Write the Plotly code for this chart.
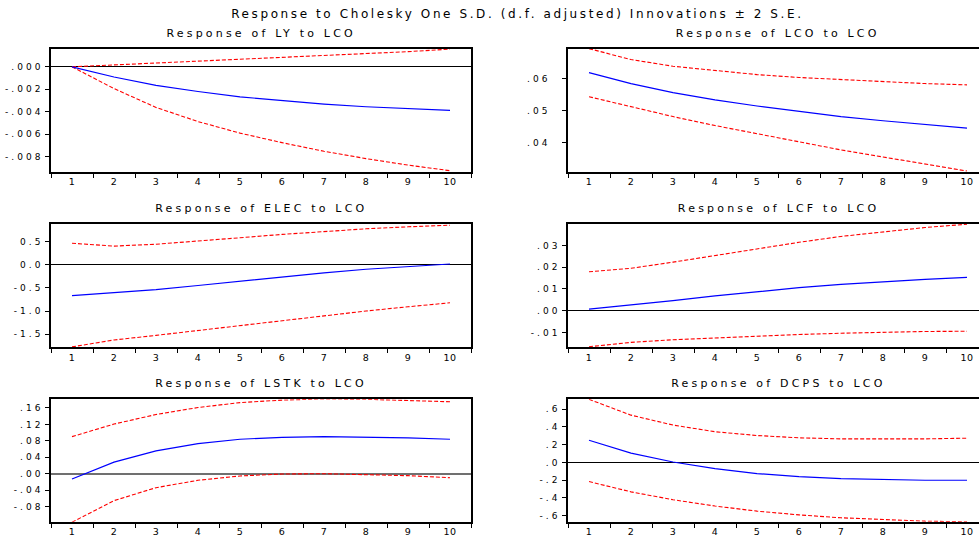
import plotly.graph_objects as go

# ---------------- data ----------------
periods = ["1", "2", "3", "4", "5", "6", "7", "8", "9", "10"]

ly_resp = [0.0, -0.00091, -0.00165, -0.0022, -0.00268, -0.00303, -0.00332, -0.00356, -0.00374, -0.00388]
ly_upper = [0.0, 0.00016, 0.00033, 0.0005, 0.00067, 0.00084, 0.001, 0.00117, 0.00135, 0.00158]
ly_lower = [0.0, -0.00194, -0.00362, -0.00488, -0.00591, -0.00676, -0.00753, -0.00818, -0.00876, -0.00926]

lco_resp = [0.0619, 0.0585, 0.0557, 0.0534, 0.0515, 0.0499, 0.0482, 0.0469, 0.0458, 0.0446]
lco_upper = [0.0694, 0.066, 0.0639, 0.0626, 0.0613, 0.0604, 0.0597, 0.0591, 0.0585, 0.0581]
lco_lower = [0.0544, 0.0513, 0.0482, 0.0454, 0.0428, 0.0402, 0.0378, 0.0356, 0.0335, 0.0312]

elec_resp = [-0.667, -0.61, -0.54, -0.45, -0.355, -0.262, -0.177, -0.099, -0.035, 0.014]
elec_upper = [0.461, 0.40, 0.44, 0.504, 0.58, 0.652, 0.716, 0.773, 0.816, 0.851]
elec_lower = [-1.773, -1.624, -1.525, -1.418, -1.312, -1.206, -1.099, -1.0, -0.908, -0.823]

lcf_resp = [0.00076, 0.0026, 0.0047, 0.0068, 0.0088, 0.0106, 0.0121, 0.0133, 0.0144, 0.0153]
lcf_upper = [0.0179, 0.0195, 0.0223, 0.0253, 0.0285, 0.0314, 0.0341, 0.0362, 0.0382, 0.0397]
lcf_lower = [-0.0165, -0.0145, -0.0133, -0.0124, -0.0117, -0.0109, -0.0103, -0.0098, -0.0095, -0.0094]

lstk_resp = [-0.0129, 0.0282, 0.0556, 0.0733, 0.0838, 0.0886, 0.0902, 0.0894, 0.087, 0.0838]
lstk_upper = [0.0902, 0.1207, 0.144, 0.161, 0.173, 0.179, 0.182, 0.181, 0.178, 0.175]
lstk_lower = [-0.118, -0.0655, -0.034, -0.016, -0.0056, -0.0008, 0.0, -0.0016, -0.0048, -0.0097]

dcps_resp = [0.25, 0.105, 0.004, -0.071, -0.127, -0.161, -0.183, -0.194, -0.202, -0.202]
dcps_upper = [0.712, 0.533, 0.421, 0.346, 0.303, 0.277, 0.265, 0.262, 0.265, 0.273]
dcps_lower = [-0.217, -0.333, -0.422, -0.493, -0.551, -0.593, -0.626, -0.649, -0.664, -0.671]

# tick labels
ly_tickvals = [0.0, -0.002, -0.004, -0.006, -0.008]
ly_ticktext = [".000", "-.002", "-.004", "-.006", "-.008"]
lco_tickvals = [0.06, 0.05, 0.04]
lco_ticktext = [".06", ".05", ".04"]
elec_tickvals = [0.5, 0.0, -0.5, -1.0, -1.5]
elec_ticktext = ["0.5", "0.0", "-0.5", "-1.0", "-1.5"]
lcf_tickvals = [0.03, 0.02, 0.01, 0.0, -0.01]
lcf_ticktext = [".03", ".02", ".01", ".00", "-.01"]
lstk_tickvals = [0.16, 0.12, 0.08, 0.04, 0.0, -0.04, -0.08]
lstk_ticktext = [".16", ".12", ".08", ".04", ".00", "-.04", "-.08"]
dcps_tickvals = [0.6, 0.4, 0.2, 0.0, -0.2, -0.4, -0.6]
dcps_ticktext = [".6", ".4", ".2", ".0", "-.2", "-.4", "-.6"]

titles = ["Response of LY to LCO", "Response of LCO to LCO",
          "Response of ELEC to LCO", "Response of LCF to LCO",
          "Response of LSTK to LCO", "Response of DCPS to LCO"]
main_title = "Response to Cholesky One S.D. (d.f. adjusted) Innovations \u00b1 2 S.E."

# ---------------- layout helpers ----------------
W, H = 979, 537
FONT = "DejaVu Sans"

panels = [
    (ly_resp, ly_upper, ly_lower, ly_tickvals, ly_ticktext, [-0.00935, 0.00162]),
    (lco_resp, lco_upper, lco_lower, lco_tickvals, lco_ticktext, [0.031, 0.0694]),
    (elec_resp, elec_upper, elec_lower, elec_tickvals, elec_ticktext, [-1.784, 0.876]),
    (lcf_resp, lcf_upper, lcf_lower, lcf_tickvals, lcf_ticktext, [-0.0168, 0.0398]),
    (lstk_resp, lstk_upper, lstk_lower, lstk_tickvals, lstk_ticktext, [-0.117, 0.181]),
    (dcps_resp, dcps_upper, dcps_lower, dcps_tickvals, dcps_ticktext, [-0.671, 0.712]),
]

# pixel boxes (left, right, top, bottom)
col_px = [(51, 471), (568, 979)]
row_px = [(49, 173), (225.7, 350), (402.3, 525.7)]
title_y_px = [34, 210, 386]

fig = go.Figure()
layout = dict(
    width=W, height=H,
    margin=dict(l=0, r=0, t=0, b=0),
    paper_bgcolor="white", plot_bgcolor="white",
    showlegend=False,
    font=dict(family=FONT, size=10, color="black"),
    annotations=[],
)

for i, (resp, up, lo, tv, tt, yr) in enumerate(panels):
    r, c = divmod(i, 2)
    n = i + 1
    xname = "x" if n == 1 else f"x{n}"
    yname = "y" if n == 1 else f"y{n}"
    for vals, color, dash, width in [(up, "#ff0000", "4px,2px", 1.1),
                                     (lo, "#ff0000", "4px,2px", 1.1),
                                     (resp, "#0000ff", "solid", 1.2)]:
        fig.add_trace(go.Scatter(x=periods, y=vals, mode="lines",
                                 line=dict(color=color, dash=dash, width=width),
                                 xaxis=xname, yaxis=yname, hoverinfo="skip"))
    x0, x1 = col_px[c]
    yt, yb = row_px[r]
    # right column is clipped by the window edge
    xmax = -0.5 + (x1 - x0) / 42.0
    is_lstk = (i == 4)
    layout[f"xaxis{'' if n == 1 else n}"] = dict(
        domain=[x0 / W, x1 / W], anchor=yname, type="category",
        range=[-0.5, xmax], tickson="boundaries", ticks="outside", ticklen=4,
        tickwidth=1, tickcolor="black", showline=True, linecolor="black", linewidth=1.6,
        mirror=True, showgrid=False, zeroline=False, fixedrange=True,
        tickfont=dict(family=FONT, size=9.5, color="black"),
    )
    layout[f"yaxis{'' if n == 1 else n}"] = dict(
        domain=[1 - yb / H, 1 - yt / H], anchor=xname, range=yr,
        tickmode="array", tickvals=tv, ticktext=tt,
        ticks="outside", ticklen=4, tickwidth=1, tickcolor="black",
        showline=True, linecolor="black", linewidth=1.6, mirror=(c == 0),
        showgrid=False, zeroline=True,
        zerolinecolor="#707070" if is_lstk else "black",
        zerolinewidth=2 if is_lstk else 1,
        ticklabelstandoff=10 if i == 1 else 0,
        fixedrange=True, tickfont=dict(family=FONT, size=9, color="black"),
    )
    cx = ((x0 + x0 + 420) / 2) / W
    layout["annotations"].append(dict(
        text=titles[i], x=cx, y=1 - title_y_px[r] / H, xref="paper", yref="paper",
        xanchor="center", yanchor="middle", showarrow=False,
        font=dict(family=FONT, size=11, color="black")))

layout["annotations"].append(dict(
    text=main_title, x=517 / W, y=1 - 14 / H, xref="paper", yref="paper",
    xanchor="center", yanchor="middle", showarrow=False,
    font=dict(family=FONT, size=12, color="black")))

fig.update_layout(**layout)

# the original chart's lettering is horizontally wide: widen it with letter spacing
post_script = """
var gd = document.getElementById('{plot_id}');
gd.querySelectorAll('.annotation-text').forEach(function(t){
  t.style.letterSpacing = (t.textContent.indexOf('Cholesky') >= 0) ? '2.6px' : '3.2px';
});
gd.querySelectorAll('.yaxislayer-above text').forEach(function(t){ t.style.letterSpacing = '3px'; });
gd.querySelectorAll('.xaxislayer-above text').forEach(function(t){ t.style.letterSpacing = '0.5px'; });
"""
fig.write_html("out.html", post_script=post_script)
